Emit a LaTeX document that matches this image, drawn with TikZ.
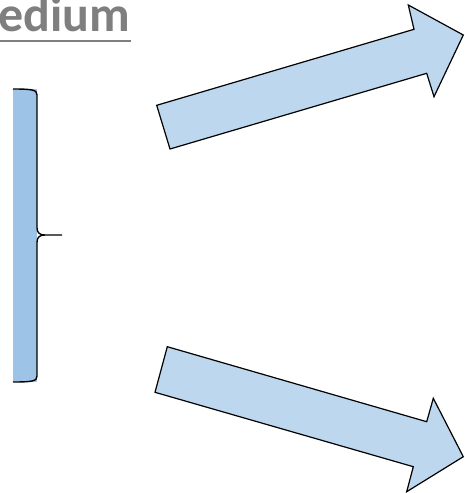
\documentclass[tikz,border=0pt]{standalone}
\usepackage{fontspec}
\setmainfont{Carlito}
\usetikzlibrary{calc}
\definecolor{bandblue}{HTML}{9DC3E6}
\definecolor{arrowblue}{HTML}{BDD7EE}
\definecolor{titlegray}{HTML}{7F7F7F}
\begin{document}
\begin{tikzpicture}[x=1pt,y=-1pt,line join=miter]
 				 \tikzstyle{fat arrow}=[fill=arrowblue, draw=black, line width=1.2pt]
 				 \tikzstyle{brace line}=[draw=black, line width=1.4pt]
						\useasboundingbox (0,0) rectangle (464,493);
						\clip (0,0) rectangle (464,493);

						% title, cut at the left edge
						\node[anchor=base west, inner sep=0pt, text=titlegray, font=\fontsize{50}{56}\selectfont\bfseries] (title) at (-2,31) {edium};
						\draw[titlegray, line width=2.4pt] (0,41) -- (131,41);

						% band with its brace
						\fill[bandblue] (13,89) rectangle (37,382);
						\coordinate (top) at (13,89);
						\coordinate (bot) at (13,382);
						\coordinate (tip) at (62,235);
						\path[brace line] (top) .. controls (33,89) and (37,90) .. (37,95)
							-- (37,228) .. controls (37,233) and (40,235) .. (45,235) -- (tip)
							(45,235) .. controls (40,235) and (37,237) .. (37,242)
							-- (37,376) .. controls (37,381) and (33,382) .. (bot);

						% upper arrow
						\draw[fat arrow] (170,149) -- (156.7,105.3) -- (414,29.3) -- (408.3,5)
							-- (463.3,35) -- (434,96.7) -- (426.7,73.3) -- cycle;

						% lower arrow
						\draw[fat arrow] (167.3,346.7) -- (155,392.3) -- (413.3,466.7) -- (406.7,491.7)
							-- (463.3,456.7) -- (433.3,398.3) -- (426.7,421.7) -- cycle;
\end{tikzpicture}
\end{document}
